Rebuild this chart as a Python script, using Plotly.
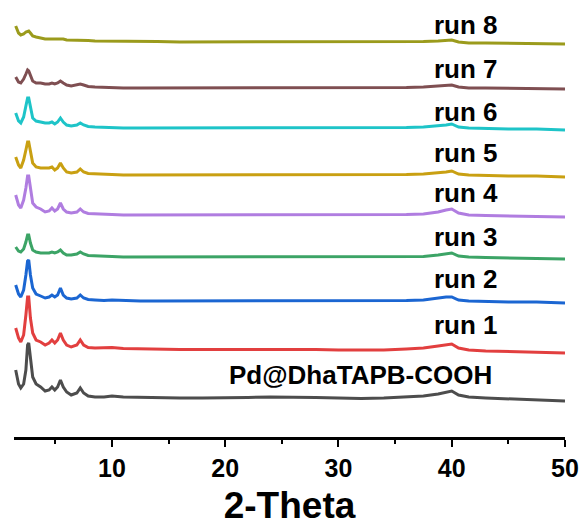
import plotly.graph_objects as go

two_theta = [1.5, 1.75, 1.95, 2.2, 2.4, 2.55, 2.65, 2.8, 3.0, 3.3,
             3.7, 4.1, 4.45, 4.7, 4.95, 5.2, 5.45, 5.7, 6.0, 6.4,
             6.9, 7.2, 7.5, 7.9, 8.5, 9.3, 10, 11, 12.5, 14,
             16, 18, 20, 22, 24, 26, 28, 30, 32, 34,
             36, 37.5, 38.8, 39.5, 40, 40.6, 41.5, 43, 45, 47.5, 50]

pd_cof = [31, 17, 13, 17, 31, 56, 58, 41, 24, 17, 14, 10, 11, 14, 11, 14, 21, 14, 9, 6,
          8, 13, 8, 5, 4, 4, 5, 4, 3.5, 3, 3, 3, 3, 3.5, 4, 4, 3.5, 3, 2.5, 3,
          4, 5, 7, 9, 10, 6, 4, 3, 2, 1, 0]
run1 = [25, 15, 11, 18, 38, 56, 56, 35, 20, 13, 11, 8, 10, 13, 10, 13, 20, 13, 8, 6,
        8, 13, 8, 5.5, 5, 5.5, 5.5, 4.5, 4, 3.5, 3.5, 3.5, 3.5, 3.5, 4, 4, 3.5, 3, 3, 3,
        4, 5, 7, 8, 9, 5, 3, 2, 1.5, 1, 0]
run2 = [18, 9, 6, 13, 28, 42, 43, 28, 15, 9, 7, 5, 6, 8, 6, 8, 15, 8, 5, 4,
        5, 8, 5, 3.5, 3, 2.5, 3, 2.5, 2, 2, 2, 2, 2, 2, 2, 2, 2, 2, 2, 2,
        2.5, 3, 5, 6, 6, 3, 2, 1.5, 1, 1, 0]
run3 = [12, 8, 7, 10, 17, 24, 24, 16, 9, 7, 6, 6, 6, 7, 6, 7, 9, 6, 4, 4,
        5, 7, 5, 3.5, 3, 2.5, 2.5, 2, 2, 2, 2, 2, 2, 2, 2, 2, 2, 2, 2, 2,
        2, 2.5, 4, 5, 6, 3, 2, 1.5, 1, 1, 0]
run4 = [22, 12, 9, 17, 29, 41, 41, 27, 14, 10, 8, 5, 6, 9, 6, 8, 14, 8, 5, 4,
        5, 8, 5, 3.5, 3, 2.5, 2.5, 2, 2, 2, 2, 2, 2, 2, 2, 2, 2, 2, 2, 2,
        2.5, 3, 5, 7, 8, 4, 2, 1.5, 1, 1, 0]
run5 = [20, 12, 9, 17, 27, 35, 35, 25, 14, 10, 9, 9, 9, 10, 7, 9, 14, 9, 5, 4,
        5, 8, 5, 3.5, 3, 2.5, 2.5, 2, 2, 2, 2, 2, 2, 2, 2, 2, 2, 2, 2, 2,
        2.5, 3, 4, 5, 6, 3, 2, 1.5, 1, 1, 0]
run6 = [17, 9, 7, 13, 24, 32, 32, 22, 12, 9, 8, 7, 7, 8, 6, 8, 12, 8, 5, 4,
        5, 7, 5, 3.5, 3, 2.5, 2.5, 2, 2, 2, 2, 2, 2, 2, 2, 2, 2, 2, 2, 2,
        2.5, 3, 4, 5, 6, 3, 2, 1.5, 1, 1, 0]
run7 = [12, 7, 6, 10, 15, 19, 18, 13, 8, 6, 6, 5, 5, 6, 5, 6, 8, 6, 4, 3,
        4, 5, 4, 2.5, 2, 1.5, 1.5, 1, 1, 1, 1, 1, 1, 1, 1, 1, 1, 1, 1, 1,
        1.5, 2, 3, 4, 4, 2, 1, 1, 0.5, 0, 0]
run8 = [18, 11, 9, 10, 12, 13, 13, 11, 8, 7, 6, 5, 5, 5, 5, 5, 5, 5, 4, 4,
        4, 4, 4, 3.5, 3, 3, 3, 3, 2.5, 2.5, 2, 2, 2, 2, 2, 2, 2, 2, 2, 2,
        2, 2.5, 3, 4, 4, 2, 1, 1, 0.5, 0, 0]

series = [pd_cof, run1, run2, run3, run4, run5, run6, run7, run8]
names = ["Pd@DhaTAPB-COOH", "run 1", "run 2", "run 3", "run 4",
         "run 5", "run 6", "run 7", "run 8"]
offsets = [49, 97, 147, 191, 233, 273, 320, 361, 406]
colors = ["#4d4d4d", "#e23f3f", "#1b66d2", "#3ca466", "#b07de0",
          "#c9a012", "#1ec4c8", "#7f4f52", "#9b9b1c"]
label_x = [31.9, 41.3, 41.3, 41.3, 41.3, 41.3, 41.3, 41.3, 41.3]
label_y = [75, 125, 171, 213, 257, 297, 338, 381, 425]

x_ticks = [10, 20, 30, 40, 50]

fig = go.Figure()
for vals, name, off, col in zip(series, names, offsets, colors):
    fig.add_trace(go.Scatter(
        x=two_theta, y=[v + off for v in vals], mode="lines", name=name,
        line=dict(color=col, width=3), showlegend=False))

for name, lx, ly in zip(names, label_x, label_y):
    fig.add_annotation(x=lx, y=ly, xref="x", yref="y", text=name,
                       showarrow=False, xanchor="center", yanchor="middle",
                       font=dict(family="Liberation Sans, Arial", size=26,
                                 color="black", weight="bold"))

fig.update_layout(
    width=582, height=526,
    margin=dict(l=14, r=17, t=0, b=89),
    plot_bgcolor="white", paper_bgcolor="white",
    font=dict(family="Liberation Sans, Arial", color="black"),
    xaxis=dict(
        range=[1.35, 50], tickvals=x_ticks, ticktext=[str(t) for t in x_ticks],
        showline=True, linecolor="black", linewidth=2.5,
        ticks="outside", ticklen=7, tickwidth=2, tickcolor="black",
        minor=dict(ticks="outside", ticklen=4, tickwidth=2, tickcolor="black",
                   dtick=5, tick0=0),
        showgrid=False, zeroline=False,
        tickfont=dict(family="Liberation Sans, Arial", size=25, weight="bold"),
        title=dict(text="2-Theta", standoff=14,
                   font=dict(family="Liberation Sans, Arial", size=37, weight="bold")),
    ),
    yaxis=dict(range=[13, 450], visible=False, showgrid=False, zeroline=False),
)

fig.write_html("out.html")
